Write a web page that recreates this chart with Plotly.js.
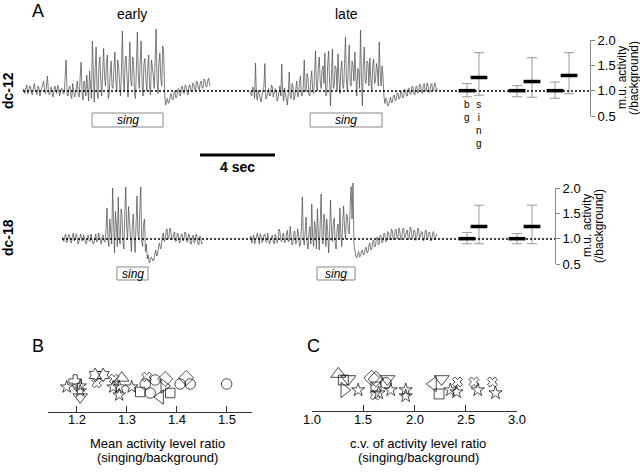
<!DOCTYPE html>
<html><head><meta charset="utf-8">
<script src="https://cdn.plot.ly/plotly-3.0.1.min.js"></script>
<style>html,body{margin:0;padding:0;background:#fff}#chart{width:640px;height:473px}</style>
</head><body><div id="chart"></div>
<script>
// ---------- DATA ----------
// m.u. activity traces (ratio to background), sampled every 0.05 s
const sampleDt = 0.05;
const dc12Starts = [0, 12.1];      // seconds: early, late
const dc18Starts = [2.08, 12.1];
const dc12Early = [1.05,1.0,0.95,1.06,1.12,0.94,0.98,1.1,1.08,0.96,0.92,1.04,1.15,1.02,1.0,0.93,1.1,1.05,0.9,0.98,1.05,1.14,1.2,1.0,
  0.95,1.1,1.3,1.02,0.92,0.99,1.08,0.95,0.88,1.0,1.1,1.03,0.95,1.12,1.05,0.9,0.98,1.06,1.02,0.94,0.96,1.3,
  1.62,0.95,0.9,1.05,1.1,0.92,0.85,1.15,1.05,0.88,0.95,1.08,1.2,0.9,0.88,1.3,1.58,0.95,0.82,1.2,1.1,0.9,1.32,1.05,0.8,1.4,1.15,0.85,
  2.0,1.1,0.78,1.45,1.88,1.0,0.85,1.5,1.68,1.2,0.9,1.4,1.85,1.3,1.1,1.55,1.72,0.85,0.95,1.35,1.6,1.1,1.05,1.45,1.78,1.2,0.98,1.62,
  1.5,1.15,0.9,1.4,2.2,1.25,1.0,1.6,1.7,1.3,0.88,1.45,1.98,1.2,1.1,1.68,1.55,0.95,0.85,1.5,2.18,1.3,1.05,1.6,2.0,1.15,0.9,1.55,
  1.65,1.25,1.0,1.45,1.72,1.1,0.92,1.62,1.5,1.3,1.05,1.7,2.24,1.2,0.95,1.58,1.76,1.25,1.1,1.9,1.82,1.0,
  0.72,0.8,0.85,0.75,0.78,0.9,0.95,0.84,0.82,0.96,1.0,0.86,0.88,1.02,1.05,0.92,0.9,1.08,1.1,0.96,0.95,1.12,1.08,0.98,0.92,1.1,
  1.12,1.0,0.98,1.16,1.15,1.04,1.0,1.2,1.18,1.06,1.02,1.15,1.2,1.08,1.05,1.24,1.22,1.1,1.08,1.2,1.26,1.12,1.1];
const dc12Late = [1.0,0.94,0.9,1.08,1.05,0.85,1.56,0.9,0.82,1.02,0.95,0.86,0.78,0.92,1.0,1.1,1.55,0.84,0.88,1.0,1.05,0.9,0.92,1.12,
  1.08,0.88,0.95,1.05,1.02,0.8,0.85,0.98,1.1,0.9,1.54,0.95,0.8,1.06,0.95,0.85,0.72,0.95,1.38,0.9,0.85,1.15,1.1,0.82,0.9,1.05,
  1.2,0.88,0.95,1.18,1.3,0.9,0.92,1.1,1.62,0.98,1.0,1.35,1.25,0.92,0.9,1.22,1.4,1.0,0.95,1.3,1.8,1.1,1.0,1.45,1.68,1.2,1.05,1.4,
  1.5,1.15,1.76,0.9,0.95,1.55,1.8,1.2,0.7,1.3,1.84,1.05,1.1,1.5,1.45,1.0,1.74,1.25,0.95,1.4,1.6,1.1,1.05,1.55,2.08,1.2,1.0,1.5,
  1.92,1.15,1.1,1.6,1.5,1.2,1.78,1.3,0.9,1.45,1.4,1.05,2.22,1.3,0.7,1.5,1.88,1.2,1.15,1.6,1.55,1.1,1.66,1.25,1.0,1.5,1.64,1.15,
  1.2,1.55,1.45,1.1,1.98,1.35,1.1,1.5,1.3,0.9,0.75,0.85,0.82,0.7,0.72,0.8,0.88,0.76,0.78,0.9,0.92,0.8,0.82,0.96,0.95,0.84,0.85,
  1.0,0.98,0.86,0.88,1.04,1.02,0.9,0.9,1.06,1.05,0.93,0.95,1.1,1.08,0.94,0.92,1.08,1.1,0.96,0.98,1.14,1.12,0.97,0.95,1.12,1.15,
  1.0,1.0,1.16,1.1,0.97,0.98,1.12,1.15,1.0,1.02,1.16,1.12,1.0,1.05];
const dc18Early = [1.05,0.98,0.95,1.06,1.1,0.93,0.98,1.09,1.08,0.95,0.92,1.04,1.12,0.96,1.0,1.1,1.06,0.9,0.94,1.02,1.1,0.97,0.96,1.08,
  1.04,0.92,0.9,1.03,1.08,0.96,0.95,1.1,1.02,0.9,0.92,1.05,1.1,0.94,0.97,1.12,1.05,0.93,0.9,1.07,1.08,0.95,0.94,1.2,
  1.62,1.0,0.85,1.4,1.2,0.9,2.02,1.1,0.72,1.55,1.3,0.85,1.84,1.0,0.9,1.6,1.47,0.95,0.8,1.5,2.04,1.2,1.0,1.65,1.35,0.9,0.75,1.25,
  1.5,1.0,0.73,1.3,1.86,1.1,1.0,1.55,2.04,0.95,0.85,1.3,1.4,0.75,0.9,0.6,0.68,0.52,0.55,0.64,0.62,0.56,0.58,0.7,0.78,0.66,
  0.7,0.85,0.92,0.8,0.85,1.05,1.12,0.95,0.98,1.15,1.2,1.0,1.02,1.22,1.18,0.98,1.0,1.1,1.14,0.95,0.96,1.12,1.1,0.92,0.94,1.08,
  1.1,0.96,0.98,1.14,1.12,0.95,0.93,1.1,1.06,0.9,0.9,1.04,1.08,0.92,0.96,1.1,1.04,0.9,0.88,1.06,1.02,0.9,0.93];
const dc18Late = [1.0,1.06,0.92,0.98,1.08,0.9,0.95,1.04,1.12,0.96,0.9,1.1,1.05,0.93,0.97,1.08,1.1,0.95,0.93,1.12,1.02,0.9,0.96,1.06,
  1.08,0.94,0.9,1.1,1.04,0.92,0.98,1.2,1.15,0.97,0.95,1.08,1.12,0.92,0.98,1.1,1.17,0.94,0.96,1.25,1.1,0.88,0.92,1.15,1.15,0.9,
  0.95,1.2,1.08,0.85,0.9,1.2,
  1.84,1.0,0.88,1.2,1.44,0.95,0.8,1.1,1.25,0.9,1.7,1.05,0.85,1.35,1.2,0.8,1.6,1.1,0.78,1.3,1.9,1.0,0.9,1.5,1.3,0.85,1.4,1.15,
  0.72,1.1,1.78,1.2,0.95,1.3,1.42,0.9,0.8,1.2,1.3,1.0,1.62,1.1,0.85,1.35,1.66,1.2,1.0,1.5,1.45,1.15,1.1,1.7,2.05,1.4,2.12,0.9,
  0.72,0.65,0.62,0.7,0.75,0.64,0.66,0.74,0.78,0.68,0.7,0.8,0.84,0.72,0.74,0.88,0.92,0.78,0.8,0.95,0.98,0.84,0.86,1.02,1.04,0.88,
  0.9,1.08,1.06,0.92,0.95,1.12,1.1,0.94,0.97,1.15,1.12,0.98,1.0,1.2,1.16,0.98,1.02,1.18,1.2,1.0,1.04,1.22,1.15,0.98,1.0,1.2,
  1.22,1.02,1.05,1.16,1.18,0.98,1.02,1.24,1.2,1.0,1.04,1.18,1.16,0.97,1.0,1.22,1.2,1.02,1.05,1.15,1.14,0.96,0.98,1.16,1.18,1.0,
  1.02,1.14,1.12,0.96,0.98,1.12,1.15,0.98,1.0,1.1,1.1];
// singing periods (s)
const dc12SingStart = [3.68, 15.31], dc12SingEnd = [7.47, 19.15];
const dc18SingStart = [5.01, 15.68], dc18SingEnd = [6.67, 17.71];
// summary (mean and range), bg / sing pairs
const summaryLabels = ['bg','sing','bg','sing','bg','sing'];
const dc12Mean  = [1.0, 1.26, 1.0, 1.18, 1.0, 1.3];
const dc12Upper = [1.14, 1.75, 1.1, 1.65, 1.17, 1.75];
const dc12Lower = [0.88, 0.91, 0.88, 0.87, 0.85, 0.94];
const dc18Mean  = [1.0, 1.24, 1.0, 1.24];
const dc18Upper = [1.12, 1.66, 1.1, 1.66];
const dc18Lower = [0.9, 0.9, 0.9, 0.9];
// B: mean activity level ratio per site
const bValues = [1.18,1.197,1.207,1.207,1.207,1.237,1.253,1.24,1.275,1.29,1.273,1.285,1.285,1.31,1.327,1.34,1.337,1.357,1.347,1.367,1.377,1.375,1.387,1.407,1.419,1.427,1.5];
const bJitter = [25,31,26,21,15,37,37,29,33,34,25,25,17,25,20,35,28,32,19,15,33,26,19,28,34,28,28];
const bSymbols = ['star','cross','star','star','triangle-down','hexagram','hexagram','x','x','triangle-up','star','star','star','star','square','x','circle','circle','circle','triangle-left','diamond','triangle-right','square','circle','diamond','circle','circle'];
// C: c.v. of activity level ratio per site
const cValues = [1.257,1.306,1.354,1.315,1.45,1.582,1.624,1.624,1.615,1.65,1.735,1.72,1.768,1.914,1.914,2.18,2.265,2.24,2.35,2.41,2.42,2.58,2.617,2.76,2.79];
const cJitter = [37,31,32,21,21,33,32,24,16,18,32,28,21,21,15,27,32,17,21,19,29,29,21,29,18];
const cSymbols = ['triangle-up','square','triangle-down','triangle-right','star','diamond','diamond','square','x','star','triangle-down','circle','star','star','star','triangle-left','triangle-down','square','star','star','x','x','star','x','star'];
const bTicks = [1.2,1.3,1.4,1.5];
const cTicks = [1.0,1.5,2.0,2.5,3.0];

// ---------- LAYOUT HELPERS ----------
const W = 640, H = 473;
const fx = p => p / W, fy = p => 1 - p / H;
const FONT = 'Liberation Sans, Arial, Helvetica, sans-serif';
const times = (start, arr) => arr.map((_, i) => start + i * sampleDt);
const summaryPos = [0, 0.92, 3.85, 5.0, 6.77, 7.85];

const traceLine = {color: 'rgb(70,70,70)', width: 0.7};
const data = [
  {x: times(dc12Starts[0], dc12Early), y: dc12Early, xaxis: 'x', yaxis: 'y', mode: 'lines', line: traceLine},
  {x: times(dc12Starts[1], dc12Late), y: dc12Late, xaxis: 'x', yaxis: 'y', mode: 'lines', line: traceLine},
  {x: times(dc18Starts[0], dc18Early), y: dc18Early, xaxis: 'x', yaxis: 'y3', mode: 'lines', line: traceLine},
  {x: times(dc18Starts[1], dc18Late), y: dc18Late, xaxis: 'x', yaxis: 'y3', mode: 'lines', line: traceLine},
];
function summary(mean, up, lo, yax) {
  return {
    x: summaryPos.slice(0, mean.length), y: mean, xaxis: 'x2', yaxis: yax, mode: 'markers', cliponaxis: false,
    marker: {symbol: 'line-ew', size: 12, color: '#000', line: {color: '#000', width: 3.5}},
    error_y: {type: 'data', symmetric: false, array: up.map((u, i) => u - mean[i]), arrayminus: lo.map((l, i) => mean[i] - l),
      color: '#999', thickness: 1, width: 5}
  };
}
data.push(summary(dc12Mean, dc12Upper, dc12Lower, 'y2'));
data.push(summary(dc18Mean, dc18Upper, dc18Lower, 'y4'));
const symSize = {star: 9, hexagram: 10, cross: 10, x: 8, circle: 10, square: 9, diamond: 11,
  'triangle-up': 12, 'triangle-down': 12, 'triangle-left': 12, 'triangle-right': 12};
function scatter(vals, jit, syms, xa, ya, scale) {
  return {x: vals, y: jit, xaxis: xa, yaxis: ya, mode: 'markers', cliponaxis: false,
    marker: {symbol: syms.map(s => s + '-open'), size: syms.map(s => symSize[s] * scale), color: '#000',
      line: {color: '#000', width: 1}}};
}
data.push(scatter(bValues, bJitter, bSymbols, 'x3', 'y5', 1.05));
data.push(scatter(cValues, cJitter, cSymbols, 'x4', 'y6', 1.1));

const hidden = {visible: false, fixedrange: true};
const tPerPx = 1 / 18.75; // seconds per pixel
const tAt = p => (p - 23) * tPerPx;
const rightAxis = (dom, pos) => ({domain: dom, range: [0.5, 2.0], anchor: 'free', position: pos, side: 'right',
  showline: true, linecolor: '#888', linewidth: 1, ticks: 'outside', ticklen: 4, tickcolor: '#888',
  tickvals: [0.5, 1.0, 1.5, 2.0], ticktext: ['0.5', '1.0', '1.5', '2.0'], tickfont: {family: FONT, size: 13, color: '#000'},
  showgrid: false, zeroline: false, fixedrange: true});
const bottomAxis = (dom, range, anchor) => ({domain: dom, range: range, anchor: anchor, showline: true, linecolor: '#333',
  linewidth: 1, ticks: 'inside', ticklen: 6, tickcolor: '#333', tickmode: 'array', tickvals: [], showticklabels: false,
  showgrid: false, zeroline: false, fixedrange: true});

const layout = {
  width: W, height: H, margin: {l: 0, r: 0, t: 0, b: 0}, paper_bgcolor: '#fff', plot_bgcolor: 'rgba(0,0,0,0)',
  showlegend: false, font: {family: FONT, color: '#000'},
  xaxis: Object.assign({domain: [0, 1], range: [tAt(0), tAt(W)], anchor: 'y'}, hidden),
  yaxis: Object.assign({domain: [fy(135), fy(20)], range: [1 - (135 - 91) / 50, 1 + (91 - 20) / 50]}, hidden),
  yaxis3: Object.assign({domain: [fy(280), fy(170)], range: [1 - (280 - 239) / 50, 1 + (239 - 170) / 50]}, hidden),
  xaxis2: Object.assign({domain: [fx(455), fx(585)], range: [-12 / 13, 118 / 13], anchor: 'y2'}, hidden),
  yaxis2: rightAxis([fy(116), fy(40)], fx(590)),
  yaxis4: rightAxis([fy(264), fy(188)], fx(555)),
  xaxis3: bottomAxis([fx(48), fx(252)], [1.2 - 28.7 / 500, 1.5 + 25.3 / 500], 'y5'),
  yaxis5: Object.assign({domain: [fy(412), fy(370)], range: [0, 42]}, hidden),
  xaxis4: bottomAxis([fx(312), fx(517)], [1.0, 3.0], 'y6'),
  yaxis6: Object.assign({domain: [fy(411), fy(369)], range: [0, 42]}, hidden),
  shapes: [], annotations: []
};
layout.xaxis3.tickvals = bTicks;
layout.xaxis4.tickvals = cTicks;
const S = layout.shapes, A = layout.annotations;
// baselines
S.push({type: 'line', xref: 'paper', yref: 'y', x0: fx(23), x1: fx(590), y0: 1, y1: 1, line: {color: '#000', width: 1.3, dash: '2px,2px'}});
S.push({type: 'line', xref: 'paper', yref: 'y3', x0: fx(62), x1: fx(555), y0: 1, y1: 1, line: {color: '#000', width: 1.3, dash: '2px,2px'}});
// sing boxes
function singBoxes(st, en, top, bot) {
  st.forEach((s, i) => {
    S.push({type: 'rect', xref: 'x', yref: 'paper', x0: s, x1: en[i], y0: fy(bot), y1: fy(top), line: {color: '#888', width: 1}, fillcolor: 'rgba(0,0,0,0)'});
    A.push({xref: 'x', yref: 'paper', x: (s + en[i]) / 2, y: fy((top + bot) / 2), text: '<i>sing</i>', showarrow: false,
      font: {size: 12, family: FONT}, xanchor: 'center', yanchor: 'middle'});
  });
}
singBoxes(dc12SingStart, dc12SingEnd, 113, 127);
singBoxes(dc18SingStart, dc18SingEnd, 267, 280);
// scale bar 4 s
S.push({type: 'line', xref: 'x', yref: 'paper', x0: tAt(200), x1: tAt(200) + 4, y0: fy(155), y1: fy(155), line: {color: '#000', width: 3}});
function txt(px, py, text, size, extra) {
  A.push(Object.assign({xref: 'paper', yref: 'paper', x: fx(px), y: fy(py), text: text, showarrow: false,
    xanchor: 'center', yanchor: 'middle', font: {size: size, family: FONT, color: '#000'}}, extra || {}));
}
txt(237.5, 167, '<b>4 sec</b>', 14);
txt(38, 11, 'A', 18);
txt(38, 346, 'B', 18);
txt(313, 346, 'C', 18);
txt(132, 14, 'early', 14);
txt(346, 14, 'late', 14);
txt(8, 91, '<b>dc-12</b>', 14, {textangle: -90});
txt(8, 238, '<b>dc-18</b>', 14, {textangle: -90});
txt(622, 78, 'm.u. activity', 12, {textangle: -90});
txt(634, 78, '(/background)', 12, {textangle: -90});
txt(587, 226, 'm.u. activity', 12, {textangle: -90});
txt(599, 226, '(/background)', 12, {textangle: -90});
// bg / sing stacked labels under first pair
summaryLabels.slice(0, 2).forEach((lab, k) => {
  A.push({xref: 'x2', yref: 'paper', x: summaryPos[k], y: fy(97), text: lab.split('').join('<br>'), showarrow: false,
    xanchor: 'center', yanchor: 'top', font: {size: 10, family: FONT, color: '#000'}});
});
// tick labels for B and C
bTicks.forEach(v => A.push({xref: 'x3', yref: 'paper', x: v, y: fy(419), text: v.toFixed(1), showarrow: false,
  xanchor: 'center', yanchor: 'middle', font: {size: 13, family: FONT, color: '#000'}}));
cTicks.forEach(v => A.push({xref: 'x4', yref: 'paper', x: v, y: fy(419), text: v.toFixed(1), showarrow: false,
  xanchor: 'center', yanchor: 'middle', font: {size: 13, family: FONT, color: '#000'}}));
txt(157, 443, 'Mean activity level ratio', 13);
txt(157, 457, '(singing/background)', 13);
txt(418, 443, 'c.v. of activity level ratio', 13);
txt(418, 457, '(singing/background)', 13);

Plotly.newPlot('chart', data, layout, {staticPlot: true, displayModeBar: false});
</script></body></html>
